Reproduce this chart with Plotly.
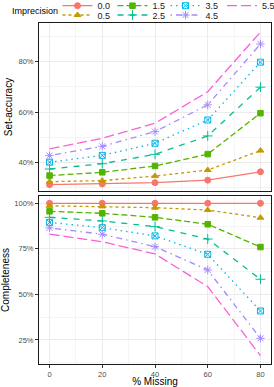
import plotly.graph_objects as go
from plotly.subplots import make_subplots

missing = [0, 20, 40, 60, 80]
levels = ["0.0", "0.5", "1.5", "2.5", "3.5", "4.5", "5.5"]

# Set-accuracy (%) per imprecision level
acc_00 = [31.3, 31.6, 32.1, 33.1, 36.4]
acc_05 = [32.5, 32.9, 34.7, 37.1, 44.8]
acc_15 = [34.9, 36.2, 38.7, 43.4, 59.6]
acc_25 = [37.5, 39.6, 43.3, 50.6, 69.9]
acc_35 = [40.2, 42.9, 47.7, 56.9, 79.8]
acc_45 = [42.8, 46.5, 52.3, 62.9, 87.0]
acc_55 = [45.5, 49.7, 55.6, 68.1, 91.7]

# Completeness (%) per imprecision level
comp_00 = [100.0, 100.0, 100.0, 100.0, 100.0]
comp_05 = [98.6, 98.3, 97.6, 96.3, 92.1]
comp_15 = [95.6, 94.5, 92.3, 88.5, 76.0]
comp_25 = [92.3, 90.3, 87.2, 80.4, 58.3]
comp_35 = [89.5, 86.6, 82.1, 72.0, 40.9]
comp_45 = [86.5, 83.0, 76.2, 63.4, 25.9]
comp_55 = [83.1, 78.9, 72.2, 54.3, 16.4]

x_ticks = [0, 20, 40, 60, 80]
acc_ticks = [40, 60, 80]
acc_ticklabels = ["40%", "60%", "80%"]
comp_ticks = [25, 50, 75, 100]
comp_ticklabels = ["25%", "50%", "75%", "100%"]

acc_series = [acc_00, acc_05, acc_15, acc_25, acc_35, acc_45, acc_55]
comp_series = [comp_00, comp_05, comp_15, comp_25, comp_35, comp_45, comp_55]

colors = ["#F8766D", "#C49A00", "#53B400", "#00C094", "#00B6EB", "#A58AFF", "#FB61D7"]
dashes = ["solid", "3px,3px", "6px,3px", "6px,6px", "1.5px,4px", "1.5px,4px,6px,4px", "10px,4px"]
symbols = ["circle", "triangle-up", "square", "cross-thin-open", "square-x-open", "asterisk-open", None]
msizes = [6, 6, 5.5, 7, 6, 7, 0]

# legend grid: 4 columns x 2 rows, filled column by column (pixel positions)
leg_col_px = [57.5, 112.5, 165.5, 222.0]
leg_row_px = [5.7, 15.0]

fig = make_subplots(rows=2, cols=1, shared_xaxes=True, vertical_spacing=5 / 341)

for i, lev in enumerate(levels):
    leg_name = "legend" if i == 0 else f"legend{i + 1}"
    for row, data in ((1, acc_series[i]), (2, comp_series[i])):
        marker = dict(color=colors[i], size=msizes[i], line=dict(color=colors[i], width=1))
        mode = "lines+markers"
        if symbols[i] is None:
            mode = "lines"
        else:
            marker["symbol"] = symbols[i]
        fig.add_trace(
            go.Scatter(
                x=missing, y=data, name=lev, mode=mode,
                line=dict(color=colors[i], width=1.3, dash=dashes[i]),
                marker=marker,
                legendgroup=lev, showlegend=(row == 1), legend=leg_name,
            ),
            row=row, col=1,
        )

font_family = "Liberation Sans, Arial, sans-serif"
grid_major = "#EBEBEB"
grid_minor = "#F4F4F4"
tick_font = dict(family=font_family, size=7.5, color="#4D4D4D")

common_x = dict(
    range=[-4, 84], tickmode="array", tickvals=x_ticks, showgrid=True, gridcolor=grid_major, gridwidth=0.8,
    minor=dict(tickvals=[10, 30, 50, 70], showgrid=True, gridcolor=grid_minor, gridwidth=0.5),
    showline=True, mirror=True, linecolor="#1A1A1A", linewidth=1, zeroline=False,
    tickfont=tick_font, automargin=False,
)
fig.update_xaxes(**common_x, ticks="", showticklabels=False, row=1, col=1)
fig.update_xaxes(**common_x, ticks="outside", ticklen=2.5, tickcolor="#333333", tickwidth=1,
                 title=dict(text="% Missing", font=dict(family=font_family, size=10, color="#000000"), standoff=4),
                 row=2, col=1)

common_y = dict(
    showgrid=True, gridcolor=grid_major, gridwidth=0.8,
    showline=True, mirror=True, linecolor="#1A1A1A", linewidth=1, zeroline=False,
    ticks="outside", ticklen=3, tickcolor="#333333", tickwidth=1,
    tickfont=tick_font, automargin=False, tickmode="array",
)
fig.update_yaxes(**common_y, range=[28.8, 95.3], tickvals=acc_ticks, ticktext=acc_ticklabels,
                 minor=dict(tickvals=[30, 50, 70, 90], showgrid=True, gridcolor=grid_minor, gridwidth=0.5),
                 title=dict(text="Set-accuracy", font=dict(family=font_family, size=10, color="#000000"), standoff=3),
                 row=1, col=1)
fig.update_yaxes(**common_y, range=[11.8, 104.0], tickvals=comp_ticks, ticktext=comp_ticklabels,
                 minor=dict(tickvals=[12.5, 37.5, 62.5, 87.5], showgrid=True, gridcolor=grid_minor, gridwidth=0.5),
                 title=dict(text="Completeness", font=dict(family=font_family, size=10, color="#000000"), standoff=3),
                 row=2, col=1)

legend_layout = {}
for i in range(len(levels)):
    leg_name = "legend" if i == 0 else f"legend{i + 1}"
    col, r = divmod(i, 2)
    legend_layout[leg_name] = dict(
        orientation="h", xanchor="left", yanchor="middle",
        x=(leg_col_px[col] - 39) / 232, y=(364 - leg_row_px[r]) / 341,
        itemwidth=30,
        font=dict(family=font_family, size=9, color="#1A1A1A"),
        bgcolor="rgba(0,0,0,0)", borderwidth=0,
    )

fig.update_layout(
    width=274, height=387,
    margin=dict(l=39, r=3, t=23, b=23, autoexpand=False),
    paper_bgcolor="white", plot_bgcolor="white",
    font=dict(family=font_family, size=9, color="#000000"),
    annotations=[dict(text="Imprecision", xref="paper", yref="paper", x=(10 - 39) / 232, y=(364 - 10.5) / 341,
                      xanchor="left", yanchor="middle", showarrow=False,
                      font=dict(family=font_family, size=9, color="#000000"))],
    **legend_layout,
)

fig.write_html(
    "out.html",
    config={"displayModeBar": False},
    post_script="document.body.style.margin='0';document.body.style.padding='0';document.body.style.overflow='hidden';",
)
